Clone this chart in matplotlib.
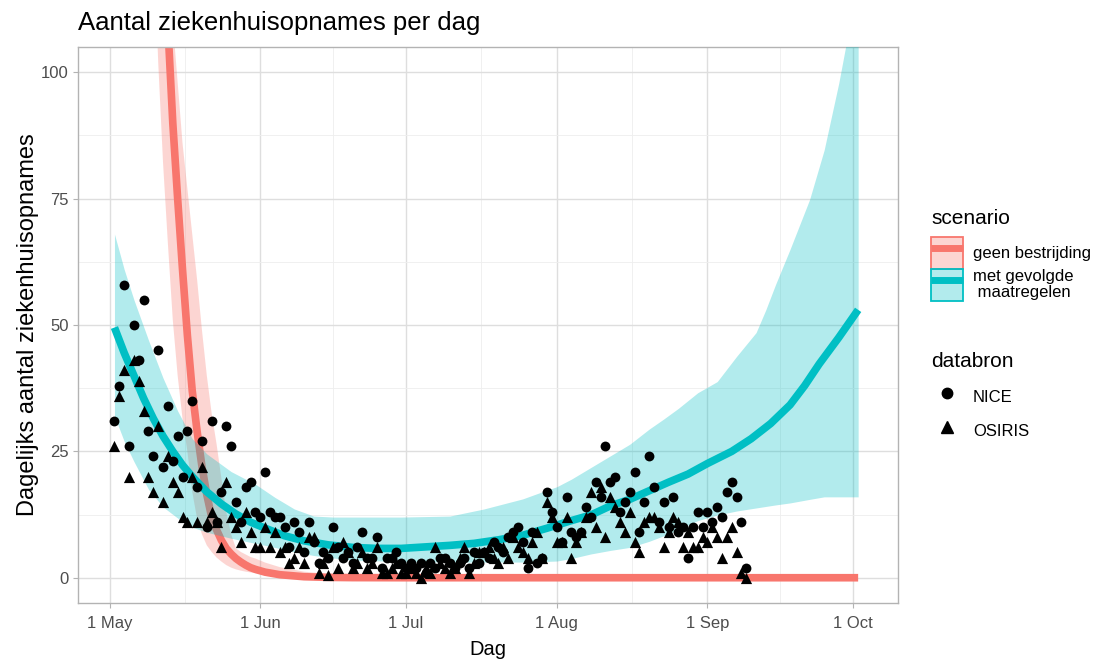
import matplotlib
matplotlib.use("Agg")
import matplotlib.pyplot as plt
from matplotlib.patches import Patch
from matplotlib.lines import Line2D
from matplotlib.legend_handler import HandlerTuple
import pandas as pd

plt.rcParams['font.family'] = ['Liberation Sans', 'DejaVu Sans']

start = pd.Timestamp('2020-05-01')

# observed admissions per day (days after 1 May)
obs_days = list(range(1, 132))
nice = [31, 38, 58, 26, 50, 43, 55, 29, 24, 45,
        22, 34, 23, 28, 20, 29, 35, 18, 27, 10,
        31, 11, 17, 30, 26, 15, 11, 18, 19, 13,
        12, 21, 13, 12, 12, 10, 6, 11, 9, 5,
        11, 7, 3, 5, 4, 10, 6, 4, 5, 3,
        6, 9, 4, 4, 8, 2, 4, 4, 5, 3,
        2, 3, 2, 3, 1, 3, 2, 4, 4, 3,
        2, 3, 4, 2, 5, 3, 5, 4, 7, 6,
        5, 8, 9, 10, 7, 2, 9, 3, 4, 17,
        13, 10, 7, 16, 9, 8, 9, 14, 12, 19,
        16, 26, 19, 20, 13, 15, 17, 21, 9, 15,
        24, 18, 11, 15, 10, 16, 9, 10, 4, 10,
        13, 10, 13, 11, 14, 12, 17, 19, 16, 11, 2]
osiris = [26, 36, 41, 20, 43, 39, 33, 20, 17, 30,
          15, 24, 19, 17, 12, 11, 20, 11, 22, 11,
          13, 11, 6, 19, 12, 10, 7, 13, 9, 6,
          6, 10, 6, 9, 5, 6, 3, 4, 6, 3,
          8, 8, 1, 3, 0.5, 6, 2, 7, 5, 2,
          3, 5, 2, 3, 6, 1, 1, 2, 3, 1,
          1, 2, 1, 0, 2, 1, 6, 3, 2, 1,
          2, 4, 6, 1, 3, 5, 5, 6, 4, 3,
          6, 4, 8, 6, 5, 4, 7, 9, 4, 15,
          12, 7, 7, 12, 4, 7, 9, 12, 17, 10,
          18, 8, 16, 14, 11, 9, 13, 7, 5, 11,
          12, 12, 10, 6, 9, 12, 11, 6, 9, 6,
          6, 8, 7, 10, 8, 4, 8, 10, 5, 1, 0]

# scenario "geen bestrijding"
red_days = [8, 9, 10, 11, 12, 13, 14, 15, 16, 17, 18, 19, 20, 21, 22, 23, 24, 25,
            26, 27, 28, 29, 30, 32, 35, 40, 45, 50, 60, 80, 154]
red_mid = [242, 198, 162, 133, 109, 90, 75, 61, 48, 37, 29, 22, 16.4, 12, 9.5, 7.4, 5.8, 4.7,
           3.8, 3.1, 2.5, 2.0, 1.65, 1.1, 0.6, 0.2, 0.07, 0.02, 0, 0, 0]
red_lo = [150, 128, 102, 82, 66, 51, 40, 31.5, 25, 17, 11.7, 8.6, 6.4, 5.1, 4.0, 3.2, 2.5, 2.0,
          1.65, 1.4, 1.2, 1.05, 0.9, 0.7, 0.45, 0.2, 0.1, 0.05, 0, 0, 0]
red_hi = [200, 176, 156, 138, 123, 110, 98, 86, 77, 68, 59, 49, 40, 32.5, 26.5, 19.7, 13, 8.6,
          5.8, 5.1, 4.6, 4.1, 3.8, 3.0, 2.1, 1.2, 0.75, 0.45, 0.2, 0.03, 0]

# scenario "met gevolgde maatregelen"
green_days = [1, 3, 5, 7, 9, 11, 13, 15, 17, 20, 23, 26, 29, 32, 36, 40, 45, 50, 55, 60,
              65, 70, 75, 80, 85, 90, 95, 99, 103, 107, 111, 115, 119, 123, 128, 132,
              136, 140, 143, 146, 150, 154]
green_mid = [49.5, 44.5, 40, 35.5, 31.5, 28, 25, 22.3, 20, 17, 14.6, 12.6, 11, 9.8, 8.3, 7.3,
             6.5, 6.0, 5.8, 5.8, 6.1, 6.4, 6.8, 7.5, 8.4, 9.8, 11.3, 12.4, 14.2, 15.5, 17.2,
             18.9, 20.5, 22.6, 25, 27.5, 30.5, 34.2, 38, 42.3, 47.5, 53]
rib_days = [1, 3, 5, 8, 11, 14, 17, 20, 25, 30, 34, 38, 42, 46, 50, 60, 70, 77, 81, 85, 89,
            92, 95, 99, 103, 107, 111, 114, 117, 121, 125, 129, 133, 135, 137, 140, 144,
            147, 150, 152, 154]
green_hi = [68, 61, 55, 47, 39.5, 33, 27.5, 24.5, 21, 18.5, 15.9, 13.6, 12.2, 12, 12, 12,
            12.2, 13.6, 14.6, 15.6, 17, 18, 19.5, 21.8, 24.1, 26.4, 29.4, 31.4, 33.5, 36.6,
            38.8, 43.8, 48.5, 53, 58, 65, 74.8, 84.6, 97.8, 108, 125]
green_lo = [32, 27, 23, 17.5, 14, 11.8, 10, 9, 7.8, 6.8, 6, 5.1, 4.4, 3.9, 3.5, 3.2, 3.1,
            3.1, 3.1, 3.1, 3.2, 3.3, 3.8, 4.7, 5.4, 6.0, 7.2, 8.3, 9.5, 11.3, 12.4, 13.2,
            13.8, 14.1, 14.4, 14.8, 15.5, 16, 16, 16, 16]

month_ticks = ['2020-05-01', '2020-06-01', '2020-07-01', '2020-08-01', '2020-09-01', '2020-10-01']
month_labels = ['1 May', '1 Jun', '1 Jul', '1 Aug', '1 Sep', '1 Oct']


def to_dates(days):
    return start + pd.to_timedelta(days, unit='D')


red = '#F8766D'
cyan = '#00BFC4'

fig = plt.figure(figsize=(10.99, 6.61), dpi=100)
ax = fig.add_axes([78 / 1099, 1 - 603 / 661, 820 / 1099, 556 / 661])

ax.fill_between(to_dates(red_days), red_lo, red_hi, color=red, alpha=0.3, lw=0, zorder=1)
ax.plot(to_dates(red_days), red_mid, color=red, lw=5.5, solid_capstyle='butt', zorder=2)
ax.fill_between(to_dates(rib_days), green_lo, green_hi, color=cyan, alpha=0.3, lw=0, zorder=3)
ax.plot(to_dates(green_days), green_mid, color=cyan, lw=5.5, solid_capstyle='butt', zorder=4)

ax.scatter(to_dates(obs_days), nice, s=50, marker='o', color='black', lw=0, zorder=5)
ax.scatter(to_dates(obs_days), osiris, s=65, marker='^', color='black', lw=0, zorder=5)

ax.set_ylim(-5, 105)
ax.set_xlim(start - pd.Timedelta(days=6.5), start + pd.Timedelta(days=162.2))

majors = pd.to_datetime(month_ticks)
minors = [a + (b - a) / 2 for a, b in zip(majors[:-1], majors[1:])]
ax.set_xticks(majors)
ax.set_xticklabels(month_labels)
ax.set_xticks(minors, minor=True)
ax.set_yticks([0, 25, 50, 75, 100])
ax.set_yticks([12.5, 37.5, 62.5, 87.5], minor=True)

ax.grid(which='major', color='#DEDEDE', lw=1.0, zorder=0)
ax.grid(which='minor', color='#EEEEEE', lw=0.6, zorder=0)
ax.set_axisbelow(True)
for s in ax.spines.values():
    s.set_color('#B3B3B3')
    s.set_linewidth(1.0)
ax.tick_params(which='major', length=3.5, width=0.8, color='#B3B3B3',
               labelcolor='#4D4D4D', labelsize=12, pad=3)
ax.tick_params(axis='x', which='major', pad=6)
ax.tick_params(which='minor', length=0)

ax.set_xlabel('Dag', fontsize=14.5, labelpad=6)
ax.set_ylabel('Dagelijks aantal ziekenhuisopnames', fontsize=17, labelpad=1.5)
fig.text(78 / 1099, 1 - 23 / 661, 'Aantal ziekenhuisopnames per dag', fontsize=18.5,
         ha='left', va='center')

# legends
fig.text(931 / 1099, 1 - 223.5 / 661, 'scenario', fontsize=15, ha='left', va='baseline')
fig.text(931 / 1099, 1 - 367 / 661, 'databron', fontsize=15, ha='left', va='baseline')

pink_fill = (0.973, 0.463, 0.427, 0.3)
cyan_fill = (0.0, 0.749, 0.769, 0.3)
h1 = (Patch(facecolor=pink_fill, edgecolor=red, lw=1.3),
      Line2D([], [], color=red, lw=5, solid_capstyle='butt'))
h2 = (Patch(facecolor=cyan_fill, edgecolor=cyan, lw=1.3),
      Line2D([], [], color=cyan, lw=5, solid_capstyle='butt'))
leg1 = fig.legend([h1, h2], ['geen bestrijding', 'met gevolgde\n maatregelen'],
                  handler_map={tuple: HandlerTuple(ndivide=1, pad=0)},
                  loc='upper left', bbox_to_anchor=(931 / 1099, 1 - 237 / 661),
                  frameon=False, fontsize=12, handlelength=1.92,
                  handleheight=2.57, labelspacing=0, handletextpad=0.6,
                  borderaxespad=0, borderpad=0)
for t in leg1.get_texts():
    t.set_linespacing(1.05)
m1 = Line2D([], [], marker='o', color='black', ls='none', markersize=7.5)
m2 = Line2D([], [], marker='^', color='black', ls='none', markersize=8.5)
leg2 = fig.legend([m1, m2], ['NICE', 'OSIRIS'], loc='upper left',
                  bbox_to_anchor=(931 / 1099, 1 - 384 / 661), frameon=False, fontsize=12,
                  handlelength=1.92, handleheight=2.0, labelspacing=0.5,
                  handletextpad=0.6, borderaxespad=0, borderpad=0)

fig.savefig('out.png', dpi=100)
